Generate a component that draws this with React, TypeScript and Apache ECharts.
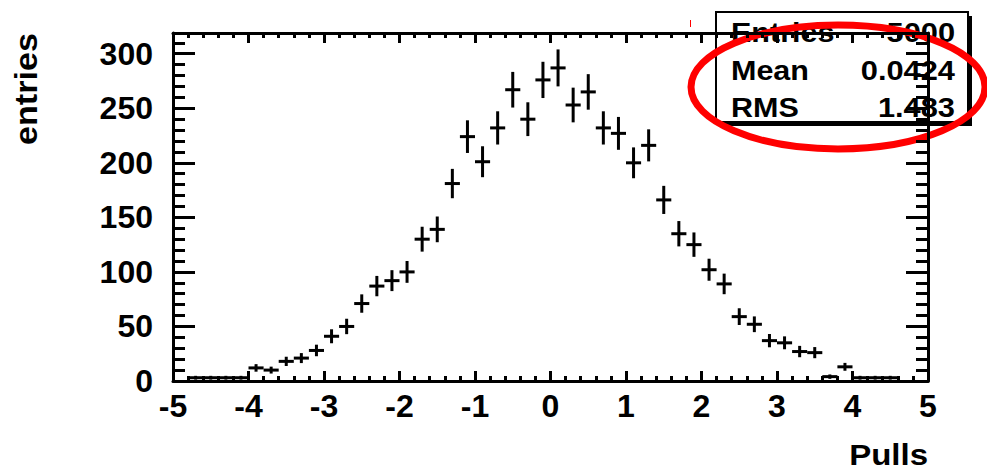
import { useEffect, useRef } from "react";
import * as echarts from "echarts";

// Histogram binning: 50 bins of width 0.2 between -5 and 5
const X_MIN = -5;
const X_MAX = 5;
const BIN_WIDTH = 0.2;
const Y_MAX = 319;

// Entries per bin, from the lowest bin (-5.0..-4.8) to the highest (4.8..5.0)
const binCounts = [
  0, 3, 3, 3, 3, 12, 10, 18, 21, 28,
  41, 50, 71, 87, 92, 100, 130, 139, 181, 224,
  201, 232, 267, 240, 276, 287, 253, 265, 232, 227,
  200, 216, 166, 135, 125, 102, 89, 59, 52, 37,
  35, 27, 26, 4, 13, 3, 3, 3, 0, 0,
];

// Statistics box
const statNames = ["Entries", "Mean", "RMS"];
const statValues = ["5000", "0.0424", "1.483"];

const xTitle = "Pulls";
const yTitle = "entries";

const FONT = "'Liberation Sans', Arial, Helvetica, sans-serif";

export default function App() {
  const ref = useRef<HTMLDivElement>(null);

  useEffect(() => {
    if (!ref.current) return;
    const chart = echarts.init(ref.current, null, { renderer: "svg" });

    // [bin centre, content, statistical error] for every filled bin
    const points = binCounts
      .map((n, i) => [X_MIN + (i + 0.5) * BIN_WIDTH, n, Math.sqrt(n)])
      .filter((p) => p[1] > 0);

    const black = "#000";
    const tickStyle = { color: black, width: 3 };

    const xAxisBase = {
      type: "value" as const,
      min: X_MIN,
      max: X_MAX,
      interval: 1,
      axisLine: { show: true, onZero: false, lineStyle: tickStyle },
      axisTick: { show: true, inside: true, length: 10, lineStyle: tickStyle },
      minorTick: { show: true, splitNumber: 5, length: 5, lineStyle: tickStyle },
      splitLine: { show: false },
      minorSplitLine: { show: false },
    };

    const yAxisBase = {
      type: "value" as const,
      min: 0,
      max: Y_MAX,
      interval: 50,
      axisLine: { show: true, onZero: false, lineStyle: tickStyle },
      axisTick: { show: true, inside: true, length: 22, lineStyle: tickStyle },
      minorTick: { show: true, splitNumber: 5, length: 12, lineStyle: tickStyle },
      splitLine: { show: false },
      minorSplitLine: { show: false },
    };

    const labelStyle = {
      color: black,
      fontFamily: FONT,
      fontWeight: "bold" as const,
      fontSize: 32,
    };

    const statText: any[] = [];
    const rowY = [32, 70, 107];
    statNames.forEach((name, i) => {
      statText.push({
        type: "text",
        x: 731,
        y: rowY[i],
        scaleX: 1.09,
        style: {
          text: name,
          fill: black,
          font: `bold 28px ${FONT}`,
          align: "left",
          verticalAlign: "middle",
        },
      });
      statText.push({
        type: "text",
        x: 955,
        y: rowY[i],
        scaleX: 1.1,
        style: {
          text: statValues[i],
          fill: black,
          font: `bold 28px ${FONT}`,
          align: "right",
          verticalAlign: "middle",
        },
      });
    });

    chart.setOption({
      animation: false,
      backgroundColor: "#fff",
      grid: { left: 173, right: 59, top: 33, bottom: 90, containLabel: false },
      xAxis: [
        {
          ...xAxisBase,
          position: "bottom",
          axisLabel: { ...labelStyle, margin: 9 },
        },
        {
          ...xAxisBase,
          position: "top",
          axisLabel: { show: false },
        },
      ],
      yAxis: [
        {
          ...yAxisBase,
          position: "left",
          axisLabel: {
            ...labelStyle,
            margin: 20,
            showMaxLabel: false,
            formatter: (v: number) => (v % 50 === 0 ? String(v) : ""),
          },
        },
        {
          ...yAxisBase,
          position: "right",
          axisLabel: { show: false },
        },
      ],
      series: [
        {
          type: "custom",
          xAxisIndex: 0,
          yAxisIndex: 0,
          data: points,
          encode: { x: 0, y: 1 },
          clip: true,
          renderItem: (_params: any, api: any) => {
            const x = api.value(0);
            const n = api.value(1);
            const e = api.value(2);
            const left = api.coord([x - BIN_WIDTH / 2, n]);
            const right = api.coord([x + BIN_WIDTH / 2, n]);
            const lo = api.coord([x, n - e]);
            const hi = api.coord([x, n + e]);
            const style = { stroke: black, lineWidth: 3, fill: "none" };
            return {
              type: "group",
              children: [
                {
                  type: "line",
                  shape: { x1: left[0], y1: left[1], x2: right[0], y2: right[1] },
                  style,
                },
                {
                  type: "line",
                  shape: { x1: lo[0], y1: lo[1], x2: hi[0], y2: hi[1] },
                  style,
                },
              ],
            };
          },
        },
      ],
      graphic: [
        {
          type: "text",
          x: 26,
          y: 89,
          rotation: Math.PI / 2,
          scaleX: 1.07,
          style: {
            text: yTitle,
            fill: black,
            font: `bold 32px ${FONT}`,
            align: "center",
            verticalAlign: "middle",
          },
        },
        {
          type: "text",
          x: 928,
          y: 455,
          scaleX: 1.1,
          style: {
            text: xTitle,
            fill: black,
            font: `bold 30px ${FONT}`,
            align: "right",
            verticalAlign: "middle",
          },
        },
        {
          type: "group",
          z: 100,
          children: [
            {
              type: "rect",
              shape: { x: 720, y: 16, width: 252, height: 110 },
              style: { fill: black },
            },
            {
              type: "rect",
              shape: { x: 716, y: 12, width: 252, height: 110 },
              style: { fill: "#fff", stroke: black, lineWidth: 2 },
            },
            ...statText,
            {
              type: "line",
              shape: { x1: 690.5, y1: 20, x2: 690.5, y2: 27 },
              style: { stroke: "#f00", lineWidth: 1 },
            },
            {
              type: "ellipse",
              shape: { cx: 838, cy: 87, rx: 147, ry: 62 },
              style: { fill: "none", stroke: "#f00", lineWidth: 7 },
            },
          ],
        },
      ],
    });

    return () => chart.dispose();
  }, []);

  return (
    <div
      ref={ref}
      style={{ position: "fixed", left: 0, top: 0, width: 987, height: 471 }}
    />
  );
}
